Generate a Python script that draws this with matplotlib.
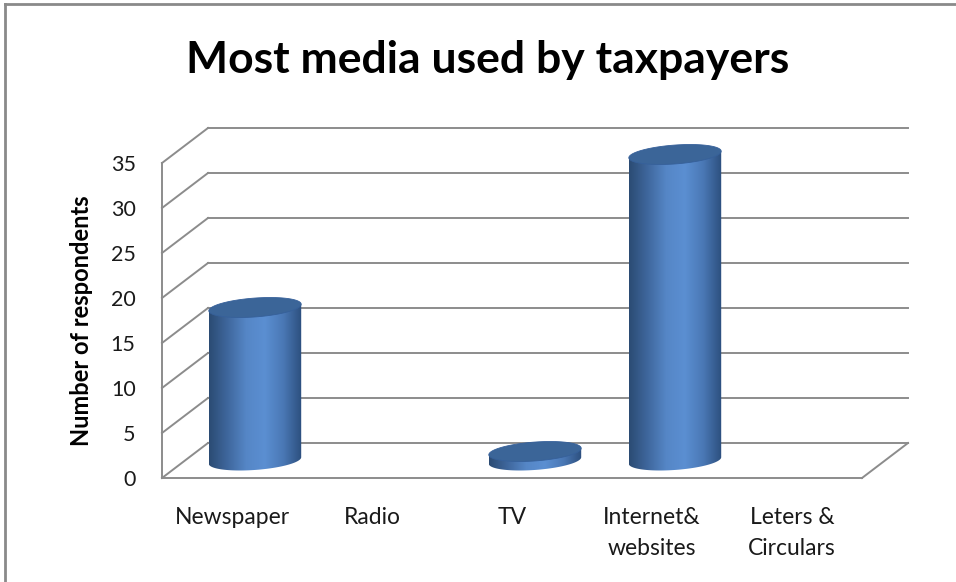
import numpy as np
import matplotlib
matplotlib.use("Agg")
import matplotlib.pyplot as plt
import matplotlib.transforms as mtransforms
from matplotlib.patches import Polygon
from matplotlib.colors import LinearSegmentedColormap
from matplotlib.lines import Line2D

# Survey answers
categories = ["Newspaper", "Radio", "TV", "Internet&\nwebsites", "Leters &\nCirculars"]
respondents = [17, 0, 1, 34, 0]
yticks = [0, 5, 10, 15, 20, 25, 30, 35]

plt.rcParams["font.family"] = ["Lato", "DejaVu Sans"]

fig = plt.figure(figsize=(9.56, 5.82), dpi=100)
fig.patch.set_facecolor("white")

# front plane of the pseudo-3D box; 9 px per respondent, room above 35
W, H = 956, 582
ymax = 42
ax = fig.add_axes([162 / W, (H - 478) / H, 700 / W, 9.0 * ymax / H])
ax.set_xlim(-0.5, len(categories) - 0.5)
ax.set_ylim(0, ymax)
for sp in ax.spines.values():
    sp.set_visible(False)
ax.set_facecolor("none")

# depth of the box (46 px right, 35 px up) and half of it for the cylinders
depth = mtransforms.ScaledTranslation(46 / 100, 35 / 100, fig.dpi_scale_trans)
half = mtransforms.ScaledTranslation(23 / 100, 17.5 / 100, fig.dpi_scale_trans)
t_front = ax.transData
t_back = ax.transData + depth
t_mid = ax.transData + half

gcol = "#8c8c8c"
grid_kw = dict(color=gcol, lw=1.4, clip_on=False, zorder=1)
x0, x1 = ax.get_xlim()
top_v = yticks[-1]


def depth_line(x, v):
    p0 = t_front.transform((x, v))
    p1 = t_back.transform((x, v))
    fig.add_artist(Line2D([p0[0], p1[0]], [p0[1], p1[1]], transform=None,
                          color=gcol, lw=1.4, zorder=1))


# back wall gridlines and the side wall diagonals
for v in yticks:
    ax.plot([x0, x1], [v, v], transform=t_back, **grid_kw)
    depth_line(x0, v)

# front axis, floor edge and right floor diagonal
ax.plot([x0, x0], [0, top_v], transform=t_front, **grid_kw)
ax.plot([x0, x1], [0, 0], transform=t_front, **grid_kw)
depth_line(x1, 0)

# cylinders
side_cmap = LinearSegmentedColormap.from_list(
    "side", ["#2b4b73", "#3f679d", "#5586c6", "#5b8fd2", "#4a78b5", "#2c4f7e"])
top_color = "#3b6598"
a = 0.33      # half width, in categories
b = 1.05      # half height of the end ellipses, in respondents
s = 1.1       # tilt of the end ellipses
t = np.linspace(0, 2 * np.pi, 120)
grad = np.linspace(0, 1, 256).reshape(1, -1)

for i, val in enumerate(respondents):
    if val <= 0:
        continue
    tb = np.linspace(np.pi, 2 * np.pi, 60)
    lower = np.column_stack([i + a * np.cos(tb), b * np.sin(tb) + s * a * np.cos(tb)])
    verts = np.vstack([[i - a, val - s * a], lower, [i + a, val + s * a]])
    body = Polygon(verts, closed=True, transform=t_mid, facecolor="none",
                   edgecolor="none")
    im = ax.imshow(grad, cmap=side_cmap, aspect="auto", interpolation="bilinear",
                   extent=(i - a, i + a, -2 * b - s * a, val + 2 * b + s * a),
                   transform=t_mid, zorder=3)
    im.set_clip_path(body)
    top = np.column_stack([i + a * np.cos(t), val + b * np.sin(t) + s * a * np.cos(t)])
    ax.add_patch(Polygon(top, closed=True, transform=t_mid, facecolor=top_color,
                         edgecolor="#36609a", lw=0.6, clip_on=False, zorder=4))

ax.set_xlim(x0, x1)
ax.set_ylim(0, ymax)

ax.set_yticks(yticks)
ax.set_yticklabels([str(v) for v in yticks], fontsize=15.5, color="#1a1a1a")
ax.set_xticks(range(len(categories)))
ax.set_xticklabels(categories, fontsize=16.5, linespacing=1.55, color="#1a1a1a")
ax.tick_params(axis="y", length=0, pad=19)
ax.tick_params(axis="x", length=0, pad=21)

ax.set_ylabel("Number of respondents", fontsize=17, fontweight="bold")
ax.yaxis.set_label_coords(-0.099, (top_v / 2) / ymax)

fig.text(0.51, 0.897, "Most media used by taxpayers", ha="center", va="center",
         fontsize=32, fontweight="bold")

# outer frame (top and left edges)
fig.add_artist(Line2D([5 / W, 1], [1 - 4 / H, 1 - 4 / H], color="#8a8a8a", lw=2))
fig.add_artist(Line2D([5 / W, 5 / W], [0, 1 - 4 / H], color="#8a8a8a", lw=2))

fig.savefig("out.png", dpi=100)
